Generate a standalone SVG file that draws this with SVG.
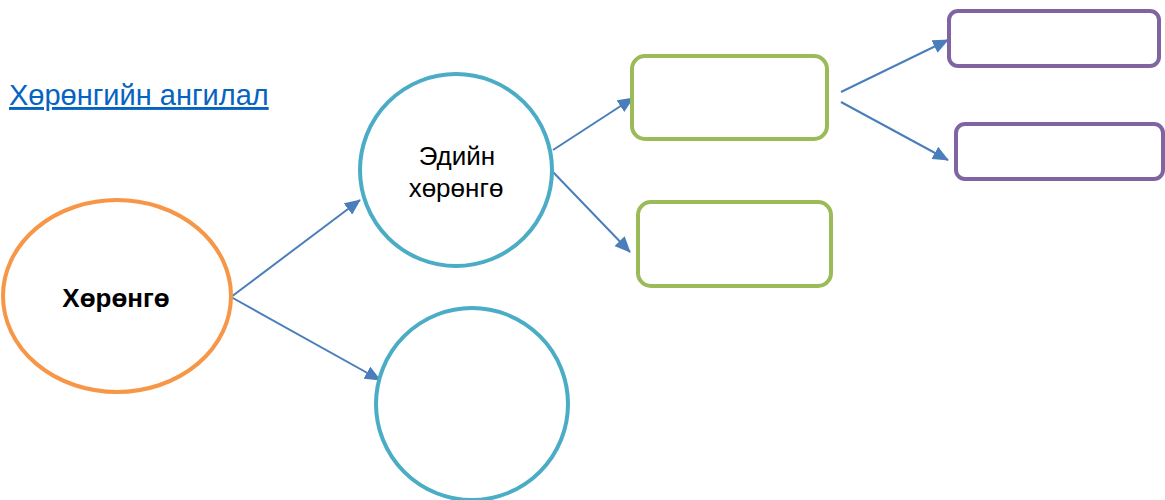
<svg xmlns="http://www.w3.org/2000/svg" width="1165" height="500" viewBox="0 0 1165 500">
<style>
text{font-family:"Liberation Sans",Arial,sans-serif;fill:#000}
.lbl{font-size:26px;text-anchor:middle}
.circ{fill:#fff;stroke:#4BACC6;stroke-width:4}
.green{fill:#fff;stroke:#9BBB59;stroke-width:4}
.purple{fill:#fff;stroke:#8064A2;stroke-width:4}
.edge{stroke:#4A7EBB;stroke-width:2;fill:none;marker-end:url(#ah)}
</style>
<defs>
<marker id="ah" markerUnits="userSpaceOnUse" markerWidth="16" markerHeight="14" refX="15" refY="7" orient="auto">
<path d="M0,0 L16,7 L0,14 Z" fill="#4A7EBB"/>
</marker>
</defs>
<rect width="1165" height="500" fill="#fff"/>
<g id="link"><text x="9" y="105" style="font-size:29px;fill:#0563C1;text-decoration:underline">Хөрөнгийн ангилал</text></g>
<g id="connectors">
<line class="edge" x1="231" y1="297" x2="360" y2="200"/>
<line class="edge" x1="231" y1="297" x2="380" y2="380"/>
<line class="edge" x1="553" y1="150" x2="633" y2="98"/>
<line class="edge" x1="553" y1="172" x2="630" y2="252"/>
<line class="edge" x1="841" y1="92" x2="948" y2="40"/>
<line class="edge" x1="841" y1="102" x2="948" y2="160"/>
</g>
<g id="root"><ellipse cx="117" cy="296" rx="114" ry="96" fill="#fff" stroke="#F79646" stroke-width="4"/><text class="lbl" x="116" y="307" style="font-weight:bold">Хөрөнгө</text></g>
<g id="c1"><circle class="circ" cx="456" cy="170" r="96"/><text class="lbl" x="457" y="165">Эдийн</text><text class="lbl" x="456" y="197">хөрөнгө</text></g>
<g id="c2"><circle class="circ" cx="472" cy="404" r="96"/></g>
<g id="g1"><rect class="green" x="632" y="56" width="195" height="83" rx="13"/></g>
<g id="g2"><rect class="green" x="638" y="202" width="193" height="84" rx="13"/></g>
<g id="p1"><rect class="purple" x="949" y="11" width="210" height="55" rx="9"/></g>
<g id="p2"><rect class="purple" x="956" y="124" width="207" height="55" rx="9"/></g>
</svg>
